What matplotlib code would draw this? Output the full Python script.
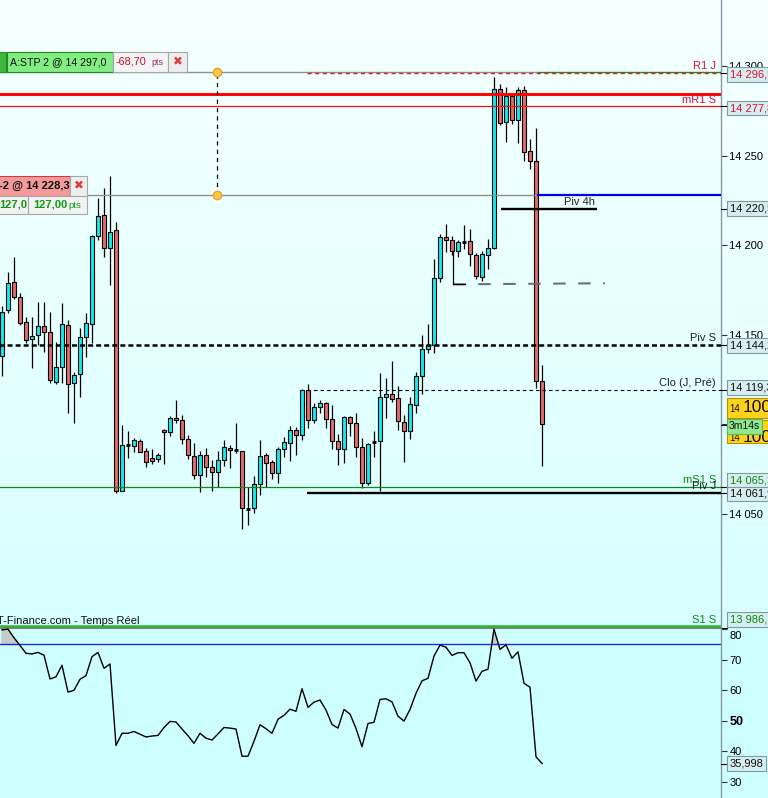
import numpy as np
import matplotlib
matplotlib.use("Agg")
import matplotlib.pyplot as plt
from matplotlib.patches import Rectangle
from matplotlib import transforms as mtrans

plt.rcParams['font.family'] = ['Liberation Sans', 'DejaVu Sans']
plt.rcParams['lines.scale_dashes'] = False

# ---------------- data ----------------
opens = [14138.3, 14164.0, 14179.6, 14171.2, 14157.4, 14147.8, 14150.0, 14155.0, 14151.8, 14123.9,
         14132.1, 14155.6, 14123.0, 14128.0, 14148.7, 14156.0, 14205.3, 14217.0, 14198.4, 14208.5,
         14063.0, 14088.4, 14088.2, 14090.8, 14085.2, 14081.3, 14080.6, 14096.9, 14095.6, 14103.5,
         14102.3, 14091.7, 14082.4, 14071.6, 14082.8, 14076.1, 14073.3, 14080.0, 14086.7, 14085.6,
         14085.0, 14053.0, 14053.2, 14066.6, 14082.8, 14078.9, 14072.7, 14086.1, 14089.5, 14096.8,
         14094.0, 14119.1, 14102.3, 14109.6, 14111.8, 14102.9, 14090.6, 14086.1, 14104.0, 14100.7,
         14087.3, 14067.2, 14090.4, 14090.6, 14115.2, 14116.9, 14114.6, 14101.2, 14096.2, 14110.7,
         14126.9, 14142.0, 14144.6, 14181.7, 14204.6, 14202.9, 14196.8, 14202.1, 14202.3, 14194.5,
         14182.2, 14194.5, 14198.4, 14287.3, 14268.8, 14283.5, 14270.0, 14286.7, 14252.6, 14247.0,
         14124.1]
highs = [14166.2, 14185.4, 14193.6, 14173.5, 14160.2, 14160.2, 14168.4, 14168.4, 14163.0, 14146.1,
         14167.9, 14158.4, 14129.3, 14153.9, 14162.3, 14206.0, 14226.4, 14232.0, 14238.8, 14213.0,
         14099.7, 14096.5, 14092.5, 14091.9, 14086.9, 14086.3, 14083.9, 14097.5, 14104.7, 14113.7,
         14105.3, 14094.1, 14089.5, 14085.2, 14086.7, 14080.2, 14085.2, 14091.3, 14088.4, 14100.8,
         14085.2, 14065.3, 14071.2, 14091.3, 14083.9, 14080.2, 14087.3, 14093.2, 14099.0, 14098.8,
         14119.8, 14122.6, 14111.8, 14113.5, 14112.6, 14110.7, 14094.5, 14104.7, 14104.7, 14106.3,
         14092.3, 14089.7, 14096.5, 14128.6, 14125.8, 14135.2, 14121.3, 14105.1, 14115.5, 14129.2,
         14150.0, 14156.1, 14192.3, 14206.4, 14212.0, 14205.3, 14203.1, 14211.2, 14209.0, 14195.6,
         14196.8, 14203.5, 14294.3, 14290.2, 14288.7, 14284.5, 14288.4, 14289.1, 14259.3, 14265.6,
         14133.2]
lows = [14127.3, 14162.3, 14170.1, 14155.6, 14145.5, 14131.7, 14144.4, 14140.7, 14123.2, 14122.6,
        14123.4, 14106.4, 14101.0, 14115.5, 14137.7, 14145.4, 14203.1, 14193.7, 14177.9, 14061.6,
        14062.8, 14081.1, 14084.8, 14084.6, 14076.4, 14077.9, 14079.2, 14077.9, 14093.7, 14100.7,
        14088.9, 14080.6, 14069.7, 14062.5, 14070.8, 14063.0, 14065.3, 14076.8, 14075.9, 14083.9,
        14041.5, 14044.0, 14050.7, 14060.4, 14064.9, 14069.4, 14067.5, 14081.7, 14079.8, 14083.1,
        14091.2, 14097.9, 14100.7, 14106.3, 14097.9, 14086.1, 14077.2, 14078.3, 14093.4, 14081.7,
        14064.4, 14066.0, 14081.7, 14063.0, 14103.5, 14112.7, 14096.8, 14079.3, 14092.1, 14106.3,
        14116.9, 14140.0, 14139.8, 14179.4, 14196.5, 14194.7, 14193.7, 14197.9, 14188.7, 14181.1,
        14180.0, 14186.7, 14198.0, 14267.2, 14258.0, 14267.7, 14257.1, 14247.4, 14242.9, 14120.2,
        14077.0]
closes = [14163.0, 14179.2, 14171.2, 14156.7, 14147.2, 14149.4, 14155.0, 14151.7, 14124.7, 14132.1,
          14156.1, 14122.6, 14127.7, 14148.7, 14156.5, 14205.3, 14216.5, 14198.4, 14207.5, 14063.0,
          14088.4, 14088.4, 14091.3, 14084.8, 14079.2, 14079.8, 14082.8, 14095.6, 14103.5, 14102.3,
          14091.7, 14082.8, 14071.6, 14082.8, 14076.1, 14073.3, 14080.0, 14087.3, 14085.6, 14085.6,
          14053.2, 14053.0, 14066.6, 14082.2, 14078.3, 14072.7, 14086.1, 14090.1, 14096.8, 14094.0,
          14119.1, 14102.3, 14109.6, 14111.8, 14102.9, 14090.6, 14086.1, 14104.0, 14100.7, 14087.3,
          14067.2, 14088.9, 14090.4, 14115.2, 14116.9, 14114.1, 14101.8, 14096.2, 14111.3, 14126.9,
          14142.0, 14144.2, 14181.7, 14204.6, 14202.9, 14196.8, 14201.8, 14202.1, 14195.1, 14182.8,
          14195.1, 14198.4, 14287.3, 14268.3, 14283.5, 14270.0, 14286.7, 14252.1, 14247.0, 14124.1,
          14100.5]
rsi = [79.8, 80.0, 77.2, 74.7, 72.1, 71.9, 72.4, 71.5, 63.7, 64.4,
       68.2, 59.4, 60.0, 63.6, 64.8, 71.0, 72.4, 67.2, 68.6, 41.9,
       45.9, 45.9, 46.5, 45.6, 44.7, 45.0, 45.2, 47.8, 49.8, 49.6,
       47.3, 45.1, 42.6, 45.9, 44.3, 43.7, 45.7, 47.8, 47.6, 47.3,
       38.4, 38.4, 43.3, 48.7, 47.4, 45.9, 50.5, 51.8, 53.8, 53.1,
       60.5, 54.4, 56.1, 56.8, 53.5, 48.8, 47.6, 53.7, 52.2, 47.5,
       41.5, 49.1, 49.5, 57.0, 57.2, 56.2, 51.5, 49.9, 53.7, 59.0,
       63.1, 63.9, 71.2, 74.8, 74.1, 71.4, 72.3, 72.3, 69.0, 63.0,
       66.2, 66.9, 80.0, 73.4, 74.9, 70.5, 72.6, 62.3, 61.0, 38.2,
       35.998]
rsi_level = 75
price_ticks = [14050, 14100, 14150, 14200, 14250, 14300]
rsi_ticks = [30, 40, 50, 60, 70, 80]

stp_order = 14297.0
lmt_order = 14228.3
red_stop = 14284.6
R1_J = 14296.5
mR1_S = 14277.8
piv_4h = 14220.5
trend_lvl = [14178.3, 14178.9]
piv_S = 14144.2
clo_J = 14119.3
mS1_S = 14065.3
piv_J = 14061.9
S1_S = 13986.5
timer = "3m14s"

# ---------------- figure ----------------
W, H = 768, 798
fig = plt.figure(figsize=(W / 100, H / 100), dpi=100)

bg = fig.add_axes([0, 0, 1, 1], zorder=-10)
grad = np.zeros((H, 1, 3))
top = np.array([246, 255, 255]) / 255
mid = np.array([216, 255, 255]) / 255
low = np.array([205, 255, 255]) / 255
for i in range(H):
    if i < 628:
        t = i / 627
        grad[i, 0] = top * (1 - t) + mid * t
    else:
        grad[i, 0] = low
bg.imshow(grad, aspect='auto', extent=[0, 1, 0, 1])
bg.axis('off')

ax = fig.add_axes([0, 170 / H, 721 / W, 628 / H])
ax2 = fig.add_axes([0, 0, 721 / W, 170 / H])
for a in (ax, ax2):
    a.set_facecolor('none')
    for s in ('left', 'top', 'bottom'):
        a.spines[s].set_visible(False)
    a.spines['right'].set_color('#8898a4')
    a.spines['right'].set_linewidth(1)
    a.set_xticks([])
    a.yaxis.tick_right()
    a.tick_params(axis='y', length=4, width=0.8, color='#333333', labelsize=8, pad=2)
    a.set_xlim(-1 / 3, 719 / 6)

ax.set_ylim(13986.3, 14337.15)
ax2.set_ylim(24.7, 80.4)
ax2.spines['top'].set_visible(True)
ax2.spines['top'].set_color('#808080')

ax.set_yticks(price_ticks)
ax.set_yticklabels([f"{p // 1000} {p % 1000:03d}" for p in price_ticks])
ax2.set_yticks(rsi_ticks)
ax2.set_yticklabels([str(v) for v in rsi_ticks])
for lab in ax2.get_yticklabels():
    if lab.get_text() == '50':
        lab.set_fontweight('bold')
        lab.set_fontsize(9)
    if lab.get_text() == '80':
        lab.set_transform(lab.get_transform() + mtrans.ScaledTranslation(0, -0.06, fig.dpi_scale_trans))

# ---------------- candles ----------------
o = np.array(opens); h = np.array(highs); l = np.array(lows); c = np.array(closes)
x = np.arange(len(o))
CY = '#10ecf0'
RD = '#e26b6b'
ax.vlines(x, l, h, color='black', lw=0.9, zorder=3)
doji = o == c
colors = [CY if cc > oo else RD for oo, cc in zip(o, c)]
nd = ~doji
ax.bar(x[nd], np.abs(c - o)[nd], bottom=np.minimum(o, c)[nd], width=0.58,
       color=np.array(colors)[nd], edgecolor='black', linewidth=0.8, zorder=4)
ax.hlines(o[doji], x[doji] - 0.4, x[doji] + 0.4, color='black', lw=2, zorder=5)

# ---------------- level lines ----------------
split = 89.17
day0 = 50.9
ax.hlines(stp_order, -1, split, color='#909090', lw=1, zorder=6)
ax.hlines(stp_order, split, 121, color='#208a20', lw=1, zorder=6)
ax.plot([day0, 121], [R1_J, R1_J], color='#d02828', lw=1, dashes=(3, 2.5), zorder=6)
ax.axhline(red_stop, color='#ff0000', lw=2.1, zorder=6)
ax.axhline(mR1_S, color='#ff1010', lw=0.9, zorder=6)
ax.hlines(lmt_order, -1, split, color='#909090', lw=1, zorder=6)
ax.hlines(lmt_order, split, 121, color='#0000e6', lw=1.6, zorder=6)
ax.hlines(piv_4h, 83.2, 99.2, color='black', lw=1.7, zorder=6)
ax.plot([75.2, 100.5], trend_lvl, color='#707070', lw=1.5, dashes=(9, 9), zorder=6)
ax.plot([75.2, 75.2, 77.2], [opens[75] - 6.5, trend_lvl[0], trend_lvl[0]], color='black', lw=0.9, zorder=6)
ax.plot([-1, 121], [piv_S, piv_S], color='black', lw=1.8, dashes=(3.6, 2.2), zorder=6)
ax.plot([day0, 121], [clo_J, clo_J], color='black', lw=0.8, dashes=(2.5, 2.2), zorder=6)
ax.axhline(mS1_S, color='#108a10', lw=0.9, zorder=6)
ax.hlines(piv_J, day0, 121, color='black', lw=1.7, zorder=6)
ax.axhline(S1_S, color='#38b038', lw=4, zorder=6)

# order drag line with handles
xo = 215 / 6
ax.plot([xo, xo], [lmt_order, stp_order], color='black', lw=0.9, dashes=(3, 3), zorder=7)
ax.plot([xo, xo], [lmt_order, stp_order], ls='none', marker='o', ms=6,
        mfc='#ffc848', mec='#e8a428', mew=1, zorder=8)

# level labels inside plot
def lvl_label(s, price, color, dy, xk=119.0, ha='right'):
    tr = ax.transData + mtrans.ScaledTranslation(0, dy / 100, fig.dpi_scale_trans)
    ax.text(xk, price, s, ha=ha, va='center', color=color, fontsize=8, transform=tr, zorder=10)

lvl_label('R1 J', R1_J, '#e01030', 7)
lvl_label('mR1 S', mR1_S, '#e01030', 6)
lvl_label('Piv S', piv_S, '#202020', 7.5)
lvl_label('Clo (J, Pré)', clo_J, '#202020', 7)
lvl_label('mS1 S', mS1_S, '#108a10', 6.5)
lvl_label('Piv J', piv_J, '#202020', 6.5)
lvl_label('S1 S', S1_S, '#108a10', 7.5)
lvl_label('Piv 4h', piv_4h, '#202020', 7, xk=96.3, ha='center')

# ---------------- RSI ----------------
r = np.array(rsi)
ax2.fill_between(x, r, rsi_level, where=r > rsi_level, interpolate=True, color='#c4cccc', zorder=2)
ax2.axhline(rsi_level, color='#2828e0', lw=1, zorder=3)
ax2.plot(x, r, color='black', lw=1, zorder=4)

# ---------------- right-axis value boxes ----------------
def vbox(a, val, s, color, dy=0):
    tr = mtrans.blended_transform_factory(a.transAxes, a.transData)
    tro = tr + mtrans.ScaledTranslation(0, dy / 100, fig.dpi_scale_trans)
    a.plot([1, 1 + 6 / 721], [val, val], transform=tr, color='black', lw=0.8, clip_on=False, zorder=19)
    a.text(1 + 8.6 / 721, val, s, transform=tro, color=color, fontsize=8, va='center', ha='left',
           clip_on=False, zorder=20,
           bbox=dict(boxstyle='square,pad=0.22', fc='#d6eef0', ec='#7f9aa5', lw=0.8))

vbox(ax, R1_J, '14 296,5', '#e01030', -1.7)
vbox(ax, mR1_S, '14 277,8', '#e01030', -1.8)
vbox(ax, piv_4h, '14 220,5', '#111111', 0)
vbox(ax, piv_S, '14 144,2', '#111111', -0.3)
vbox(ax, clo_J, '14 119,3', '#111111', 2)
vbox(ax, mS1_S, '14 065,3', '#108a10', 6)
vbox(ax, piv_J, '14 061,9', '#111111', -1.3)
vbox(ax, S1_S, '13 986,5', '#108a10', 7.7)
vbox(ax2, rsi[-1], '35,998', '#111111', 0)

# ---------------- pixel helpers for overlays ----------------
def ypx(a, v):
    return H - a.transData.transform((0, v))[1]

def rect(x0, y0, x1, y1, fc, ec, lw=0.8, z=30):
    fig.add_artist(Rectangle((x0 / W, 1 - y1 / H), (x1 - x0) / W, (y1 - y0) / H,
                             transform=fig.transFigure, fc=fc, ec=ec, lw=lw, zorder=z))

def txt(x0, y0, s, z=31, **kw):
    fig.text(x0 / W, 1 - y0 / H, s, zorder=z, **kw)

# last price yellow boxes + timer
rect(727, 420, 770, 443, '#ffd21c', '#b89000', z=30)
txt(729.5, 438, '14', z=31, fontsize=7, va='center', color='#111111')
txt(743, 437.5, '100', z=31, fontsize=12.5, va='center', color='#111111')
rect(727, 398, 770, 418, '#ffd21c', '#b89000', z=32)
txt(729.5, 409, '14', z=33, fontsize=7, va='center', color='#111111')
txt(743, 408, '100', z=33, fontsize=12.5, va='center', color='#111111')
fig.add_artist(plt.Line2D([721 / W, 727 / W], [1 - 425 / H, 1 - 425 / H], transform=fig.transFigure,
                          color='black', lw=0.8, zorder=34))
rect(727, 418.5, 762, 433.5, '#90e890', '#5cb85c', z=35)
txt(729, 426, timer, z=36, fontsize=7.5, va='center', color='#111111')

# order tickets (top-left)
y1 = ypx(ax, stp_order)
rect(-2, y1 - 20, 6, y1, '#3cb83c', '#2a8a2a')
rect(7, y1 - 20, 113, y1, '#82ee82', '#1e8c1e')
txt(10, y1 - 10, 'A:STP 2 @ 14 297,0', fontsize=7.6, va='center', color='#111111')
rect(113, y1 - 20, 168, y1, '#f4f4f4', '#a8a8a8')
txt(116, y1 - 10, '-68,70', fontsize=7.8, va='center', color='#c8102e')
txt(151, y1 - 9.5, 'pts', fontsize=6.5, va='center', color='#a03060')
rect(168, y1 - 20, 187, y1, '#eeeeee', '#a8a8a8')
txt(177.5, y1 - 10, '✖', fontsize=8.5, va='center', ha='center', color='#e03a3a',
    family=['DejaVu Sans'])

y2 = ypx(ax, lmt_order)
rect(-2, y2 - 19, 70, y2 + 1, '#f59a9a', '#d03a3a')
txt(-1, y2 - 9, '-2 @ 14 228,3', fontsize=8, va='center', color='#111111', fontweight='bold')
rect(70, y2 - 19, 87, y2 + 1, '#eeeeee', '#a8a8a8')
txt(78.5, y2 - 9, '✖', fontsize=8.5, va='center', ha='center', color='#e03a3a',
    family=['DejaVu Sans'])
rect(-2, y2 + 1, 28, y2 + 19, '#f2f2f2', '#a8a8a8')
txt(-1, y2 + 10, '127,0', fontsize=8, va='center', color='#109a10', fontweight='bold')
rect(28, y2 + 1, 87, y2 + 19, '#f2f2f2', '#a8a8a8')
txt(33, y2 + 10, '127,00', fontsize=8, va='center', color='#109a10', fontweight='bold')
txt(68, y2 + 10.5, 'pts', fontsize=6.8, va='center', color='#109a10')

# RSI panel title
txt(-3, 621, 'T-Finance.com - Temps Réel', z=25, fontsize=8, va='center', color='#111111')

fig.savefig('out.png', dpi=100)
